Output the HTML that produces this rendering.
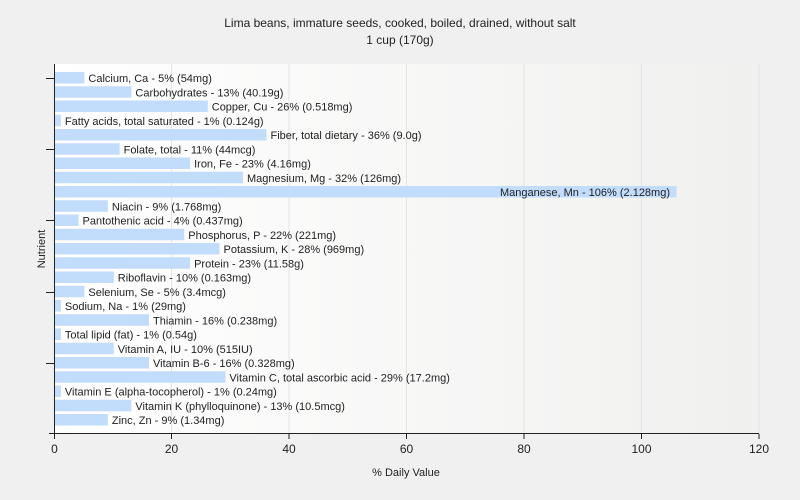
<!DOCTYPE html>
<html><head><meta charset="utf-8"><style>
body{margin:0;width:800px;height:500px;overflow:hidden}
svg{display:block;font-family:"Liberation Sans",sans-serif}
</style></head><body>
<svg width="800" height="500" viewBox="0 0 800 500" xmlns="http://www.w3.org/2000/svg">
<defs><linearGradient id="bg" x1="0" y1="0" x2="1" y2="0"><stop offset="0" stop-color="#ffffff"/><stop offset="1" stop-color="#f0f0ef"/></linearGradient></defs>
<rect width="800" height="500" fill="#f0f0f0"/>
<rect x="54" y="64" width="705" height="370" fill="url(#bg)"/>
<g stroke="#e4e4e4" stroke-width="1">
<line x1="171.5" y1="64" x2="171.5" y2="434"/><line x1="289" y1="64" x2="289" y2="434"/><line x1="406.5" y1="64" x2="406.5" y2="434"/><line x1="524" y1="64" x2="524" y2="434"/><line x1="641.5" y1="64" x2="641.5" y2="434"/><line x1="759" y1="64" x2="759" y2="434"/>
</g>
<text x="400" y="27" font-size="12" text-anchor="middle" fill="#222">Lima beans, immature seeds, cooked, boiled, drained, without salt</text>
<text x="400" y="44" font-size="12" text-anchor="middle" fill="#222">1 cup (170g)</text>
<g fill="#c2dcfb">
<rect x="55" y="72" width="29.4" height="11.5"/><rect x="55" y="86.25" width="76.4" height="11.5"/><rect x="55" y="100.5" width="152.75" height="11.5"/><rect x="55" y="114.75" width="5.9" height="11.5"/><rect x="55" y="129" width="211.5" height="11.5"/><rect x="55" y="143.25" width="64.6" height="11.5"/><rect x="55" y="157.5" width="135.1" height="11.5"/><rect x="55" y="171.75" width="188" height="11.5"/><rect x="55" y="186" width="621.5" height="11.5"/><rect x="55" y="200.25" width="52.9" height="11.5"/><rect x="55" y="214.5" width="23.5" height="11.5"/><rect x="55" y="228.75" width="129.25" height="11.5"/><rect x="55" y="243" width="164.5" height="11.5"/><rect x="55" y="257.25" width="135.1" height="11.5"/><rect x="55" y="271.5" width="58.75" height="11.5"/><rect x="55" y="285.75" width="29.4" height="11.5"/><rect x="55" y="300" width="5.9" height="11.5"/><rect x="55" y="314.25" width="94" height="11.5"/><rect x="55" y="328.5" width="5.9" height="11.5"/><rect x="55" y="342.75" width="58.75" height="11.5"/><rect x="55" y="357" width="94" height="11.5"/><rect x="55" y="371.25" width="170.4" height="11.5"/><rect x="55" y="385.5" width="5.9" height="11.5"/><rect x="55" y="399.75" width="76.4" height="11.5"/><rect x="55" y="414" width="52.9" height="11.5"/>
</g>
<g font-size="11" fill="#222">
<text x="88.4" y="82">Calcium, Ca - 5% (54mg)</text>
<text x="135.4" y="96.25">Carbohydrates - 13% (40.19g)</text>
<text x="211.75" y="110.5">Copper, Cu - 26% (0.518mg)</text>
<text x="64.9" y="124.75">Fatty acids, total saturated - 1% (0.124g)</text>
<text x="270.5" y="139">Fiber, total dietary - 36% (9.0g)</text>
<text x="123.6" y="153.25">Folate, total - 11% (44mcg)</text>
<text x="194.1" y="167.5">Iron, Fe - 23% (4.16mg)</text>
<text x="247" y="181.75">Magnesium, Mg - 32% (126mg)</text>
<text x="670" y="196" text-anchor="end">Manganese, Mn - 106% (2.128mg)</text>
<text x="111.9" y="210.25">Niacin - 9% (1.768mg)</text>
<text x="82.5" y="224.5">Pantothenic acid - 4% (0.437mg)</text>
<text x="188.25" y="238.75">Phosphorus, P - 22% (221mg)</text>
<text x="223.5" y="253">Potassium, K - 28% (969mg)</text>
<text x="194.1" y="267.25">Protein - 23% (11.58g)</text>
<text x="117.75" y="281.5">Riboflavin - 10% (0.163mg)</text>
<text x="88.4" y="295.75">Selenium, Se - 5% (3.4mcg)</text>
<text x="64.9" y="310">Sodium, Na - 1% (29mg)</text>
<text x="153" y="324.25">Thiamin - 16% (0.238mg)</text>
<text x="64.9" y="338.5">Total lipid (fat) - 1% (0.54g)</text>
<text x="117.75" y="352.75">Vitamin A, IU - 10% (515IU)</text>
<text x="153" y="367">Vitamin B-6 - 16% (0.328mg)</text>
<text x="229.4" y="381.25">Vitamin C, total ascorbic acid - 29% (17.2mg)</text>
<text x="64.9" y="395.5">Vitamin E (alpha-tocopherol) - 1% (0.24mg)</text>
<text x="135.4" y="409.75">Vitamin K (phylloquinone) - 13% (10.5mcg)</text>
<text x="111.9" y="424">Zinc, Zn - 9% (1.34mg)</text>
</g>
<g stroke="#222" stroke-width="1">
<line x1="54.5" y1="64" x2="54.5" y2="434"/>
<line x1="49" y1="433.5" x2="759" y2="433.5"/>
<line x1="46" y1="78.5" x2="54" y2="78.5"/><line x1="46" y1="149.5" x2="54" y2="149.5"/><line x1="46" y1="220.5" x2="54" y2="220.5"/><line x1="46" y1="292.5" x2="54" y2="292.5"/><line x1="46" y1="363.5" x2="54" y2="363.5"/>
<line x1="54.5" y1="434" x2="54.5" y2="439"/><line x1="171.5" y1="434" x2="171.5" y2="439"/><line x1="289" y1="434" x2="289" y2="439"/><line x1="406.5" y1="434" x2="406.5" y2="439"/><line x1="524" y1="434" x2="524" y2="439"/><line x1="641.5" y1="434" x2="641.5" y2="439"/><line x1="759" y1="434" x2="759" y2="439"/>
</g>
<g font-size="12" fill="#222" text-anchor="middle">
<text x="54.5" y="453">0</text><text x="171.5" y="453">20</text><text x="289" y="453">40</text><text x="406.5" y="453">60</text><text x="524" y="453">80</text><text x="641.5" y="453">100</text><text x="759" y="453">120</text>
</g>
<text x="406" y="476" font-size="11" text-anchor="middle" fill="#222">% Daily Value</text>
<text transform="translate(45,249) rotate(-90)" font-size="11" text-anchor="middle" fill="#222">Nutrient</text>
</svg>
</body></html>
